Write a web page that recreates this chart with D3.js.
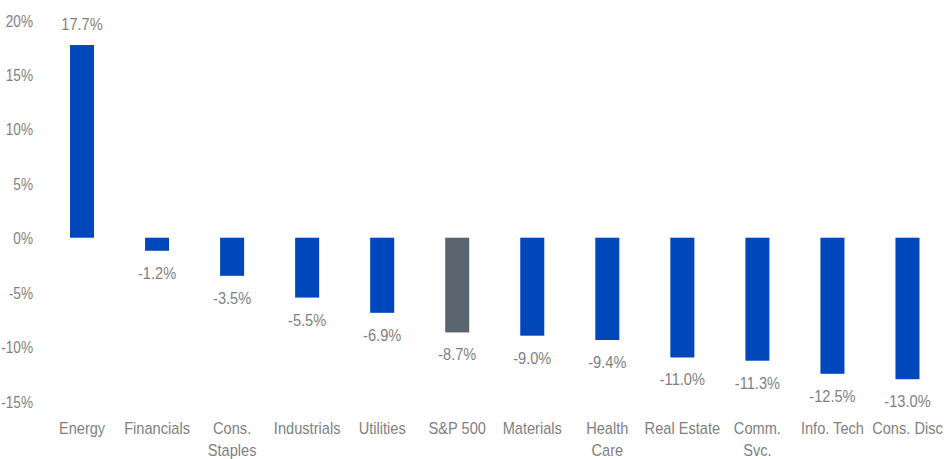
<!DOCTYPE html>
<html>
<head>
<meta charset="utf-8">
<script src="https://cdn.jsdelivr.net/npm/d3@7"></script>
<style>
  html, body { margin: 0; padding: 0; background: #fff; }
  svg text { font-family: "Liberation Sans", Arial, sans-serif; fill: #7f7f7f; }
</style>
</head>
<body>
<div id="chart"></div>
<script>
// sector returns
var categories = ["Energy", "Financials", "Cons.|Staples", "Industrials", "Utilities", "S&P 500",
                  "Materials", "Health|Care", "Real Estate", "Comm.|Svc.", "Info. Tech", "Cons. Disc"];
var values = [17.7, -1.2, -3.5, -5.5, -6.9, -8.7, -9.0, -9.4, -11.0, -11.3, -12.5, -13.0];
var yTicks = [20, 15, 10, 5, 0, -5, -10, -15];
var benchmark = "S&P 500";

var squeeze = 0.86; // the original font is a narrow one

function draw_chart()
{
    const width = 944, height = 459;
    const svg = d3.select("#chart").append("svg")
        .attr("width", width)
        .attr("height", height);

    const x = d3.scaleBand()
        .domain(categories)
        .range([44.5, 945])
        .paddingInner(0.68)
        .paddingOuter(0.34);

    const y = d3.scaleLinear()
        .domain([-15, 20])
        .range([401, 20]);

    const cx = c => x(c) + x.bandwidth() / 2;

    // y axis, labels only
    const yAxis = d3.axisLeft(y)
        .tickValues(yTicks)
        .tickSize(0)
        .tickPadding(0)
        .tickFormat(d => d + "%");

    const ga = svg.append("g")
        .attr("transform", "translate(33,0)")
        .call(yAxis);
    ga.select(".domain").remove();
    ga.selectAll("text")
        .attr("font-size", 17)
        .attr("font-family", null)
        .attr("fill", null)
        .attr("x", 0)
        .attr("dy", "0.36em")
        .attr("transform", "scale(0.8,1)");

    // bars
    svg.selectAll("rect.bar")
        .data(values)
        .enter().append("rect")
        .attr("class", "bar")
        .attr("x", (d, i) => x(categories[i]))
        .attr("width", x.bandwidth())
        .attr("y", d => y(Math.max(0, d)))
        .attr("height", d => Math.abs(y(d) - y(0)))
        .attr("fill", (d, i) => categories[i] === benchmark ? "#5a646e" : "#0047bb");

    // value labels
    svg.selectAll("text.val")
        .data(values)
        .enter().append("text")
        .attr("class", "val")
        .attr("transform", (d, i) =>
            `translate(${cx(categories[i])},${d >= 0 ? y(d) - 15 : y(d) + 28}) scale(${squeeze},1)`)
        .attr("text-anchor", "middle")
        .attr("font-size", 17)
        .text(d => d.toFixed(1) + "%");

    // category labels (| splits lines)
    const cl = svg.selectAll("text.cat")
        .data(categories)
        .enter().append("text")
        .attr("class", "cat")
        .attr("transform", d => `translate(${cx(d)},434) scale(${squeeze},1)`)
        .attr("text-anchor", "middle")
        .attr("font-size", 17);

    cl.selectAll("tspan")
        .data(d => d.split("|"))
        .enter().append("tspan")
        .attr("x", 0)
        .attr("dy", (d, i) => i === 0 ? 0 : 22)
        .text(d => d);
}

draw_chart();
</script>
</body>
</html>
